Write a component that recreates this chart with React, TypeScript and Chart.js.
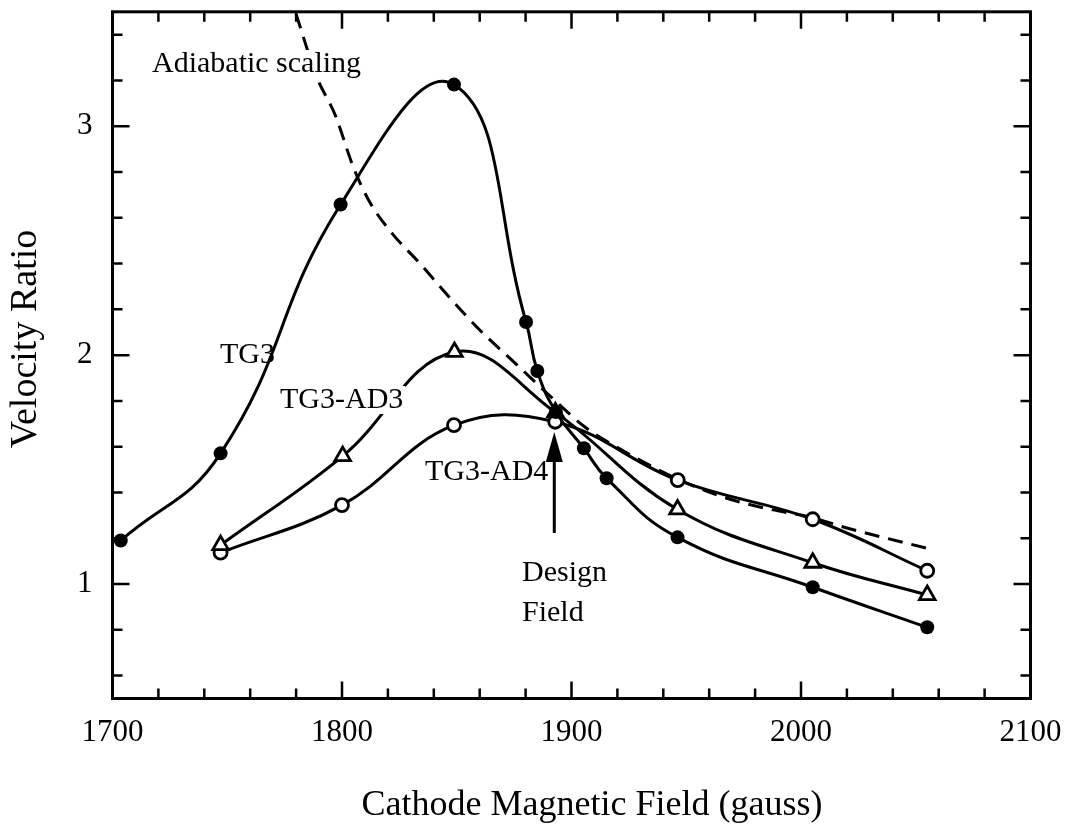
import React, { useEffect, useRef } from "react";
import { Chart, registerables } from "chart.js";

Chart.register(...registerables);

// Cathode magnetic field (gauss) and velocity ratio for each gun configuration
const fieldTG3 = [1703.6, 1747.1, 1799.4, 1848.8, 1880.2, 1885.1, 1893.2, 1905.4, 1915.3, 1946.2, 2005.1, 2055.0];
const ratioTG3 = [1.19, 1.571, 2.658, 3.182, 2.145, 1.931, 1.752, 1.593, 1.462, 1.204, 0.986, 0.811];

const fieldAD3 = [1747.1, 1800.3, 1849.0, 1893.0, 1946.2, 2005.1, 2055.0];
const ratioAD3 = [1.17, 1.559, 2.014, 1.75, 1.326, 1.093, 0.952];

const fieldAD4 = [1747.1, 1800.0, 1848.8, 1892.9, 1946.3, 2005.1, 2055.0];
const ratioAD4 = [1.137, 1.345, 1.694, 1.709, 1.454, 1.283, 1.058];

// Adiabatic scaling reference curve
const fieldAdiabatic = [1780, 1789, 1797, 1805, 1812, 1822, 1834, 1847, 1860, 1876, 1893, 1906, 1922, 1946, 1966, 1985, 2005, 2020, 2055];
const ratioAdiabatic = [3.49, 3.215, 3.05, 2.82, 2.67, 2.53, 2.4, 2.25, 2.11, 1.96, 1.8, 1.685, 1.585, 1.46, 1.38, 1.33, 1.29, 1.245, 1.156];

// Axis ranges and labelled ticks
const xRange = [1700, 2100];
const yRange = [0.5, 3.5];
const xTickLabels = [1700, 1800, 1900, 2000, 2100];
const yTickLabels = [1, 2, 3];
const xMinorStep = 20;
const yMinorStep = 0.2;

const designField = 1892.5;

const SERIF = '"Liberation Serif", "Times New Roman", Times, serif';

const pts = (xs: number[], ys: number[]) => xs.map((x, i) => ({ x, y: ys[i] }));

const decorations = {
  id: "decorations",
  afterDatasetsDraw(chart: any) {
    const { ctx, chartArea: a, scales } = chart;
    const xs = scales.x;
    const ys = scales.y;
    ctx.save();
    ctx.fillStyle = "#000";
    ctx.strokeStyle = "#000";

    // curve labels (white box hides the line underneath)
    const label = (text: string, left: number, base: number, knockout: boolean) => {
      ctx.font = `30px ${SERIF}`;
      ctx.textAlign = "left";
      ctx.textBaseline = "alphabetic";
      if (knockout) {
        const w = ctx.measureText(text).width;
        ctx.fillStyle = "#fff";
        ctx.fillRect(left - 2, base - 22, w + 4, 28);
        ctx.fillStyle = "#000";
      }
      ctx.fillText(text, left, base);
    };
    label("Adiabatic scaling", 152, 72, true);
    label("TG3", 220, 363, false);
    label("TG3-AD3", 280, 408, true);
    label("TG3-AD4", 425, 480, false);
    label("Design", 522, 581, false);
    label("Field", 522, 621, false);

    // design field arrow
    const ax = xs.getPixelForValue(designField);
    const tipY = 432;
    ctx.lineWidth = 3;
    ctx.beginPath();
    ctx.moveTo(ax, 533);
    ctx.lineTo(ax, tipY + 20);
    ctx.stroke();
    ctx.beginPath();
    ctx.moveTo(ax, tipY);
    ctx.lineTo(ax - 8.5, tipY + 30);
    ctx.lineTo(ax + 8.5, tipY + 30);
    ctx.closePath();
    ctx.fill();

    // inward tick marks on all four sides
    ctx.lineWidth = 2.5;
    ctx.beginPath();
    const nx = Math.round((xRange[1] - xRange[0]) / xMinorStep);
    for (let k = 1; k < nx; k++) {
      const v = xRange[0] + k * xMinorStep;
      const px = xs.getPixelForValue(v);
      const len = xTickLabels.includes(v) ? 17 : 10;
      ctx.moveTo(px, a.bottom);
      ctx.lineTo(px, a.bottom - len);
      ctx.moveTo(px, a.top);
      ctx.lineTo(px, a.top + len);
    }
    const ny = Math.round((yRange[1] - yRange[0]) / yMinorStep);
    for (let k = 1; k <= ny; k++) {
      const v = Math.round((0.6 + (k - 1) * yMinorStep) * 10) / 10;
      if (v >= yRange[1]) break;
      const py = ys.getPixelForValue(v);
      const len = yTickLabels.includes(v) ? 17 : 10;
      ctx.moveTo(a.left, py);
      ctx.lineTo(a.left + len, py);
      ctx.moveTo(a.right, py);
      ctx.lineTo(a.right - len, py);
    }
    ctx.stroke();

    // plot frame
    ctx.lineWidth = 3;
    ctx.strokeRect(a.left, a.top, a.right - a.left, a.bottom - a.top);

    // axis titles
    ctx.textAlign = "center";
    ctx.textBaseline = "middle";
    ctx.font = `36px ${SERIF}`;
    ctx.fillText("Cathode Magnetic Field (gauss)", 592, 806);
    ctx.font = `38px ${SERIF}`;
    ctx.translate(26, 339);
    ctx.rotate(-Math.PI / 2);
    ctx.fillText("Velocity Ratio", 0, 0);
    ctx.restore();
  },
};

const noEdgePadding = (s: any) => {
  s.paddingLeft = 0;
  s.paddingRight = 0;
  s.paddingTop = 0;
  s.paddingBottom = 0;
};

export default function App() {
  const ref = useRef<HTMLCanvasElement | null>(null);

  useEffect(() => {
    if (!ref.current) return;
    const tickFont = { family: SERIF, size: 31 };
    const chart = new Chart(ref.current, {
      type: "line",
      data: {
        datasets: [
          {
            label: "TG3",
            data: pts(fieldTG3, ratioTG3),
            borderColor: "#000",
            borderWidth: 3,
            tension: 0.45,
            pointStyle: "circle",
            pointRadius: 7,
            pointBackgroundColor: "#000",
            pointBorderColor: "#000",
            pointBorderWidth: 0,
          },
          {
            label: "TG3-AD3",
            data: pts(fieldAD3, ratioAD3),
            borderColor: "#000",
            borderWidth: 3,
            tension: 0.4,
            pointStyle: "triangle",
            pointRadius: 9,
            pointBackgroundColor: "#fff",
            pointBorderColor: "#000",
            pointBorderWidth: 2.8,
          },
          {
            label: "TG3-AD4",
            data: pts(fieldAD4, ratioAD4),
            borderColor: "#000",
            borderWidth: 3,
            tension: 0.4,
            pointStyle: "circle",
            pointRadius: 6.5,
            pointBackgroundColor: "#fff",
            pointBorderColor: "#000",
            pointBorderWidth: 2.8,
          },
          {
            label: "Adiabatic scaling",
            data: pts(fieldAdiabatic, ratioAdiabatic),
            borderColor: "#000",
            borderWidth: 3,
            borderDash: [15, 9],
            cubicInterpolationMode: "monotone",
            pointRadius: 0,
          },
        ],
      },
      options: {
        animation: false,
        responsive: false,
        events: [],
        layout: { padding: { left: 0, right: 39.5, top: 10, bottom: 0 } },
        plugins: { legend: { display: false }, tooltip: { enabled: false } },
        scales: {
          x: {
            type: "linear",
            min: xRange[0],
            max: xRange[1],
            grid: { display: false, drawTicks: false },
            border: { display: false },
            afterBuildTicks: (s: any) => {
              s.ticks = xTickLabels.map((value) => ({ value }));
            },
            afterFit: (s: any) => {
              s.height = 131.5;
              noEdgePadding(s);
            },
            ticks: {
              callback: (v: any) => String(v),
              font: tickFont,
              color: "#000",
              padding: 16,
              maxRotation: 0,
              autoSkip: false,
            },
          },
          y: {
            type: "linear",
            min: yRange[0],
            max: yRange[1],
            grid: { display: false, drawTicks: false },
            border: { display: false },
            afterBuildTicks: (s: any) => {
              s.ticks = yTickLabels.map((value) => ({ value }));
            },
            afterFit: (s: any) => {
              s.width = 112.5;
              noEdgePadding(s);
            },
            ticks: {
              callback: (v: any) => String(v),
              font: tickFont,
              color: "#000",
              padding: 20,
              autoSkip: false,
            },
          },
        },
      },
      plugins: [decorations],
    } as any);
    return () => chart.destroy();
  }, []);

  return (
    <div style={{ position: "absolute", left: 0, top: 0, width: 1070, height: 830, background: "#fff" }}>
      <canvas ref={ref} width={1070} height={830} style={{ width: 1070, height: 830, display: "block" }} />
    </div>
  );
}
